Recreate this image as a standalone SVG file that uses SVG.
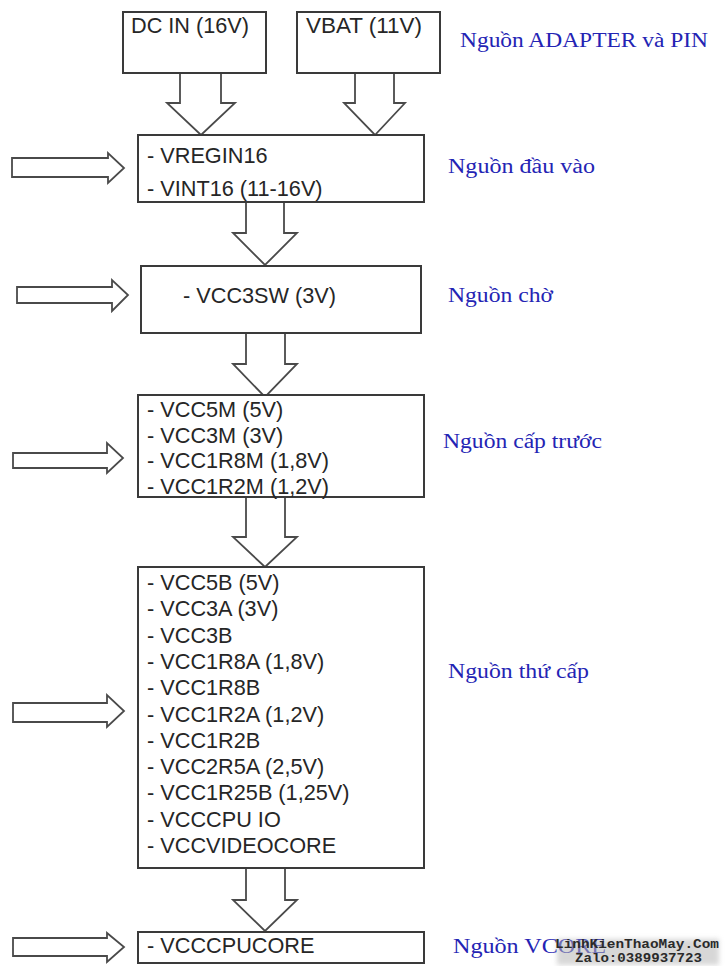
<svg xmlns="http://www.w3.org/2000/svg" width="728" height="966" viewBox="0 0 728 966">
<style>
.box{fill:#fff;stroke:#3a3a3a;stroke-width:2}
.arr{fill:#fff;stroke:#4a4a4a;stroke-width:1.8;stroke-linejoin:miter}
.t{font-family:"Liberation Sans",Arial,sans-serif;font-size:21.7px;fill:#262626}
.lbl{font-family:"Liberation Serif","Times New Roman",serif;font-size:20px;fill:#2424b4}
.wm{font-family:"Liberation Mono","Courier New",monospace;font-weight:bold;font-size:12px;fill:#2a2a2a}
</style>
<defs>
<filter id="blur" x="-10%" y="-50%" width="120%" height="200%">
<feGaussianBlur stdDeviation="2.5"/>
</filter>
</defs>
<rect width="728" height="966" fill="#fff"/>
<g id="connectors">
<path class="arr" d="M180 73 V103 H167 L201 135 L235 103 H221 V73"/>
<path class="arr" d="M355 73 V103 H344 L375 135 L405 103 H394 V73"/>
<path class="arr" d="M246 202 V233 H233 L265 265 L297 233 H284 V202"/>
<path class="arr" d="M246 333 V364 H233 L265 397 L297 364 H285 V333"/>
<path class="arr" d="M246 497 V537 H233 L265 567 L297 537 H285 V497"/>
<path class="arr" d="M246 868 V900 H233 L265 931 L297 900 H285 V868"/>
<path class="arr" d="M12 158 H108 V153 L124 168 L108 183 V177 H12 Z"/>
<path class="arr" d="M17 287 H112 V280 L128 295 L112 311 V303 H17 Z"/>
<path class="arr" d="M13 453 H107 V443 L123 458 L107 473 V468 H13 Z"/>
<path class="arr" d="M13 703 H107 V695 L124 711 L107 727 V722 H13 Z"/>
<path class="arr" d="M13 938 H107 V933 L124 947 L107 962 V956 H13 Z"/>
</g>
<g id="dcin">
<rect class="box" x="123" y="12" width="143" height="61"/>
<text class="t" x="131" y="33" font-size="19" textLength="118" lengthAdjust="spacingAndGlyphs">DC IN (16V)</text>
</g>
<g id="vbat">
<rect class="box" x="297" y="12" width="143" height="61"/>
<text class="t" x="306" y="33" font-size="19" textLength="116" lengthAdjust="spacingAndGlyphs">VBAT (11V)</text>
</g>
<g id="label-adapter">
<text class="lbl" x="460" y="47" textLength="248" lengthAdjust="spacingAndGlyphs">Nguồn ADAPTER và PIN</text>
</g>
<g id="dauvao">
<rect class="box" x="138" y="135" width="286" height="67"/>
<text class="t" x="147" y="163">- VREGIN16</text>
<text class="t" x="147" y="196">- VINT16 (11-16V)</text>
</g>
<g id="label-dauvao">
<text class="lbl" x="448" y="173" textLength="147" lengthAdjust="spacingAndGlyphs">Nguồn đầu vào</text>
</g>
<g id="cho">
<rect class="box" x="141" y="266" width="280" height="67"/>
<text class="t" x="183" y="303">- VCC3SW (3V)</text>
</g>
<g id="label-cho">
<text class="lbl" x="448" y="302" textLength="105" lengthAdjust="spacingAndGlyphs">Nguồn chờ</text>
</g>
<g id="captruoc">
<rect class="box" x="138" y="395" width="286" height="102"/>
<text class="t" x="147" y="417">- VCC5M (5V)</text>
<text class="t" x="147" y="442.5">- VCC3M (3V)</text>
<text class="t" x="147" y="468">- VCC1R8M (1,8V)</text>
<text class="t" x="147" y="493.5">- VCC1R2M (1,2V)</text>
</g>
<g id="label-captruoc">
<text class="lbl" x="443" y="448" textLength="159" lengthAdjust="spacingAndGlyphs">Nguồn cấp trước</text>
</g>
<g id="thucap">
<rect class="box" x="138" y="567" width="286" height="301"/>
<text class="t" x="147" y="590">- VCC5B (5V)</text>
<text class="t" x="147" y="616.3">- VCC3A (3V)</text>
<text class="t" x="147" y="642.6">- VCC3B</text>
<text class="t" x="147" y="668.9">- VCC1R8A (1,8V)</text>
<text class="t" x="147" y="695.2">- VCC1R8B</text>
<text class="t" x="147" y="721.5">- VCC1R2A (1,2V)</text>
<text class="t" x="147" y="747.8">- VCC1R2B</text>
<text class="t" x="147" y="774.1">- VCC2R5A (2,5V)</text>
<text class="t" x="147" y="800.4">- VCC1R25B (1,25V)</text>
<text class="t" x="147" y="826.7">- VCCCPU IO</text>
<text class="t" x="147" y="853">- VCCVIDEOCORE</text>
</g>
<g id="label-thucap">
<text class="lbl" x="448" y="678" textLength="141" lengthAdjust="spacingAndGlyphs">Nguồn thứ cấp</text>
</g>
<g id="vcore">
<rect class="box" x="138" y="932" width="286" height="31"/>
<text class="t" x="147" y="953">- VCCCPUCORE</text>
</g>
<g id="label-vcore">
<text class="lbl" x="453" y="953" textLength="153" lengthAdjust="spacingAndGlyphs">Nguồn VCORE</text>
</g>
<g id="watermark">
<rect x="557" y="939" width="162" height="26" fill="#b8b8b8" opacity="0.55" filter="url(#blur)"/>
<text class="wm" x="555" y="948" textLength="164" lengthAdjust="spacingAndGlyphs">LinhKienThaoMay.Com</text>
<text class="wm" x="575" y="962" textLength="127" lengthAdjust="spacingAndGlyphs">Zalo:0389937723</text>
</g>
</svg>
